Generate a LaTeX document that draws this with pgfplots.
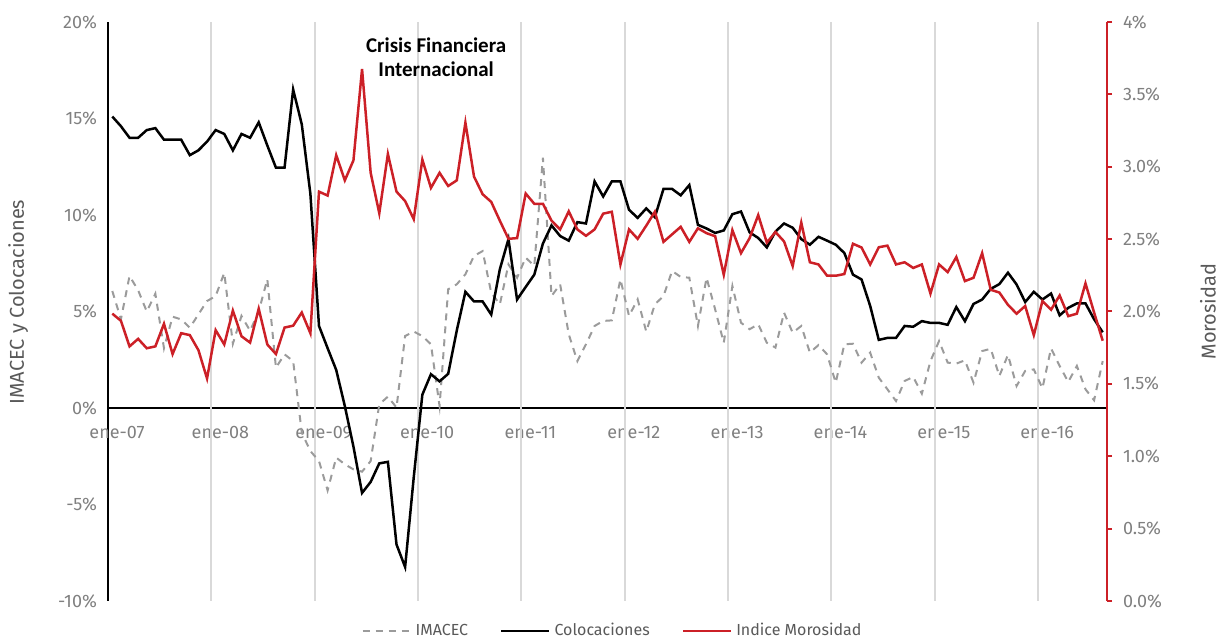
\documentclass[border=0pt]{standalone}
\usepackage{pgfplots}
\usepackage{pgfplotstable}
\pgfplotsset{compat=1.18}
\usepackage{fontspec}
\setmainfont{Fira Sans}
\newfontfamily\carlito{Carlito}
\definecolor{morred}{RGB}{204,32,39}
\definecolor{imgray}{RGB}{155,155,155}
\definecolor{gridgray}{RGB}{217,217,217}
\definecolor{ticktxt}{RGB}{128,128,128}
\definecolor{labtxt}{RGB}{89,89,89}

\pgfplotstableread{
i col
0 15.1
1 14.6
2 14.0
3 14.0
4 14.4
5 14.5
6 13.9
7 13.9
8 13.9
9 13.1
10 13.35
11 13.8
12 14.4
13 14.2
14 13.35
15 14.2
16 14.0
17 14.8
18 13.6
19 12.45
20 12.45
21 16.5
22 14.7
23 11.1
24 4.25
25 3.1
26 1.97
27 0.1
28 -2.0
29 -4.4
30 -3.83
31 -2.87
32 -2.79
33 -7.07
34 -8.24
35 -3.6
36 0.69
37 1.75
38 1.38
39 1.77
40 4.02
41 6.02
42 5.52
43 5.52
44 4.84
45 7.19
46 8.75
47 5.62
48 6.27
49 6.91
50 8.52
51 9.46
52 8.91
53 8.67
54 9.63
55 9.56
56 11.74
57 10.96
58 11.74
59 11.74
60 10.27
61 9.85
62 10.34
63 9.89
64 11.35
65 11.35
66 11.02
67 11.55
68 9.49
69 9.3
70 9.07
71 9.2
72 10.04
73 10.18
74 9.1
75 8.81
76 8.32
77 9.14
78 9.56
79 9.34
80 8.75
81 8.46
82 8.87
83 8.67
84 8.46
85 8.03
86 6.91
87 6.66
88 5.29
89 3.53
90 3.63
91 3.63
92 4.25
93 4.21
94 4.5
95 4.41
96 4.41
97 4.31
98 5.23
99 4.5
100 5.39
101 5.62
102 6.17
103 6.42
104 7.01
105 6.4
106 5.49
107 6.02
108 5.62
109 5.93
110 4.8
111 5.19
112 5.42
113 5.42
114 4.6
115 3.92
}\colocaciones

\pgfplotstableread{
i ima
0 6.06
1 4.6
2 6.84
3 6.1
4 5.0
5 5.92
6 3.1
7 4.73
8 4.59
9 4.16
10 4.85
11 5.54
12 5.8
13 7.0
14 3.33
15 4.77
16 4.0
17 5.0
18 6.67
19 2.09
20 2.78
21 2.43
22 -1.28
23 -2.23
24 -2.75
25 -4.27
26 -2.57
27 -2.92
28 -3.18
29 -3.3
30 -2.75
31 0.19
32 0.59
33 0.02
34 3.73
35 3.96
36 3.73
37 3.3
38 0.1
39 6.15
40 6.41
41 6.93
42 7.88
43 8.13
44 5.97
45 5.37
46 7.44
47 6.75
48 7.79
49 7.36
50 12.97
51 5.8
52 6.41
53 3.82
54 2.43
55 3.3
56 4.25
57 4.51
58 4.54
59 6.67
60 4.77
61 5.63
62 3.96
63 5.37
64 5.8
65 7.1
66 6.79
67 6.75
68 4.25
69 6.75
70 5.11
71 3.38
72 6.32
73 4.42
74 4.08
75 4.34
76 3.38
77 3.13
78 4.94
79 3.9
80 4.25
81 2.87
82 3.26
83 2.78
84 1.31
85 3.3
86 3.33
87 2.35
88 2.87
89 1.57
90 0.97
91 0.36
92 1.4
93 1.61
94 0.74
95 2.43
96 3.47
97 2.35
98 2.3
99 2.47
100 1.31
101 2.95
102 3.07
103 1.66
104 2.75
105 1.14
106 1.92
107 2.0
108 1.02
109 3.09
110 2.18
111 1.35
112 2.18
113 0.97
114 0.4
115 2.43
}\imacec

\pgfplotstableread{
i mor
0 1.985
1 1.936
2 1.759
3 1.811
4 1.746
5 1.759
6 1.915
7 1.706
8 1.85
9 1.837
10 1.733
11 1.537
12 1.871
13 1.772
14 2.006
15 1.829
16 1.785
17 2.019
18 1.772
19 1.706
20 1.889
21 1.902
22 1.993
23 1.85
24 2.828
25 2.801
26 3.08
27 2.906
28 3.044
29 3.675
30 2.958
31 2.679
32 3.088
33 2.828
34 2.763
35 2.638
36 3.049
37 2.854
38 2.958
39 2.867
40 2.906
41 3.305
42 2.932
43 2.81
44 2.757
45 2.627
46 2.502
47 2.507
48 2.815
49 2.744
50 2.744
51 2.627
52 2.567
53 2.692
54 2.567
55 2.523
56 2.567
57 2.676
58 2.689
59 2.325
60 2.567
61 2.502
62 2.593
63 2.689
64 2.481
65 2.533
66 2.585
67 2.481
68 2.575
69 2.541
70 2.52
71 2.254
72 2.562
73 2.403
74 2.507
75 2.666
76 2.476
77 2.549
78 2.484
79 2.314
80 2.614
81 2.34
82 2.325
83 2.247
84 2.247
85 2.259
86 2.468
87 2.442
88 2.325
89 2.444
90 2.455
91 2.325
92 2.34
93 2.301
94 2.325
95 2.124
96 2.325
97 2.272
98 2.376
99 2.21
100 2.233
101 2.403
102 2.15
103 2.131
104 2.046
105 1.985
106 2.038
107 1.837
108 2.072
109 2.012
110 2.111
111 1.968
112 1.985
113 2.194
114 1.993
115 1.798
}\morosidad

\begin{document}
\begin{tikzpicture}
\useasboundingbox (-54pt,-19.5pt) rectangle (555pt,300.5pt);
\begin{axis}[
  scale only axis, width=499.5pt, height=289.5pt,
  at={(0pt,0pt)}, anchor=south west,
  xmin=-0.5, xmax=115.5, ymin=-10, ymax=20,
  axis x line*=middle, axis y line*=left,
  x axis line style={-, line width=0.75pt, black},
  y axis line style={-, line width=1.25pt, black},
  xtick={0.55,12.55,24.55,36.55,48.55,60.55,72.55,84.55,96.55,108.55},
  xticklabels={ene-07,ene-08,ene-09,ene-10,ene-11,ene-12,ene-13,ene-14,ene-15,ene-16},
  extra x ticks={11.5,23.5,35.5,47.5,59.5,71.5,83.5,95.5,107.5},
  extra x tick labels={},
  extra x tick style={grid=major, major grid style={gridgray, line width=1pt}},
  major tick length=0pt,
  ytick={-10,-5,0,5,10,15,20},
  yticklabels={-10\%,-5\%,0\%,5\%,10\%,15\%,20\%},
  /pgf/number format/assume math mode=true,
  ticklabel style={font=\fontsize{9}{10}\selectfont, text=ticktxt},
  xticklabel style={anchor=center, yshift=-12.5pt},
  yticklabel style={anchor=east, xshift=-2pt},
  ylabel={IMACEC y Colocaciones},
  ylabel style={at={(axis description cs:-0.09,0.516)}, anchor=center, font=\fontsize{10}{11}\selectfont, text=labtxt},
  clip=false,
]
\addplot[imgray, line width=1pt, dash pattern=on 3.5pt off 3pt] table[x=i,y=ima] {\imacec};
\addplot[black, line width=1.25pt] table[x=i,y=col] {\colocaciones};
\node[font=\carlito\bfseries\fontsize{10.5}{12}\selectfont, align=center] at (axis cs:37.6,18.2) {Crisis Financiera\\Internacional};
\end{axis}
\begin{axis}[
  scale only axis, width=499.5pt, height=289.5pt,
  at={(0pt,0pt)}, anchor=south west,
  xmin=-0.5, xmax=115.5, ymin=0, ymax=4,
  hide x axis,
  axis y line*=right,
  y axis line style={-, line width=1pt, morred},
  ytick={0,0.5,1,1.5,2,2.5,3,3.5,4},
  yticklabels={0.0\%,0.5\%,1.0\%,1.5\%,2.0\%,2.5\%,3.0\%,3.5\%,4\%},
  /pgf/number format/assume math mode=true,
  tick align=outside, major tick length=2.5pt,
  ytick style={morred, line width=1pt},
  ticklabel style={font=\fontsize{9}{10}\selectfont, text=ticktxt},
  yticklabel style={anchor=west, xshift=2pt},
  ylabel={Morosidad},
  ylabel style={at={(axis description cs:1.101,0.5)}, anchor=center, font=\fontsize{10}{11}\selectfont, text=labtxt},
  legend style={at={(0.506,-0.052)}, anchor=center, draw=none, fill=none,
    legend columns=3, font=\fontsize{8}{9}\selectfont, text=labtxt,
    /tikz/every even column/.append style={column sep=14pt}},
  legend image code/.code={\draw[#1] (0pt,0pt) -- (24pt,0pt);},
  legend cell align=left,
  clip=false,
]
\addlegendimage{imgray, line width=1pt, dash pattern=on 3.5pt off 3pt}
\addlegendentry{IMACEC}
\addlegendimage{black, line width=1.25pt}
\addlegendentry{Colocaciones}
\addplot[morred, line width=1.25pt] table[x=i,y=mor] {\morosidad};
\addlegendentry{Indice Morosidad}
\end{axis}
\end{tikzpicture}
\end{document}
